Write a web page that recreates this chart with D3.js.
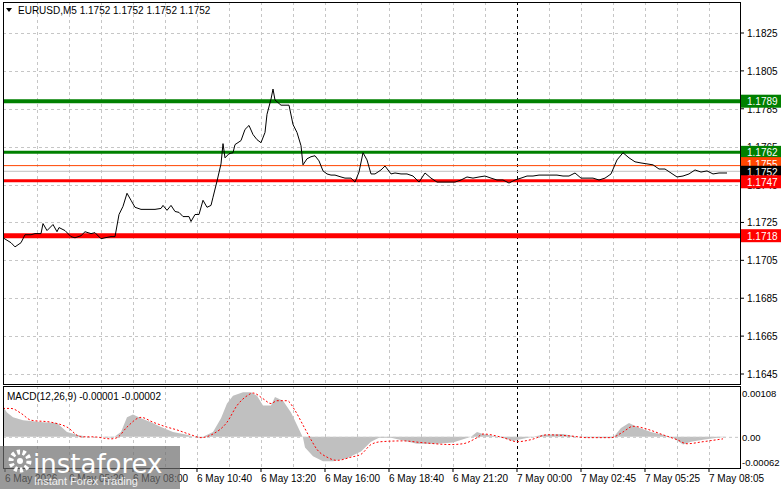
<!DOCTYPE html>
<html>
<head>
<meta charset="utf-8">
<script src="https://cdn.jsdelivr.net/npm/d3@7"></script>
<style>
  body { margin: 0; background: #fff; }
  text { font-family: "Liberation Sans", Arial, sans-serif; font-size: 10px; }
</style>
</head>
<body>
<svg id="chart" width="781" height="489"></svg>
<script>
// price line, M5 bars (bar index, close)
var priceIdx = [0,4,6,9,11,14,16,19,20,22,25,27,28,31,34,36,39,41,44,46,49,51,54,56,58,60,62,64,66,69,71,74,76,79,80,82,84,86,88,90,93,94,96,98,100,102,104,105,107,109,110,111,113,115,116,119,121,123,125,127,129,131,132,134,135,136,139,141,143,145,147,149,150,152,154,156,158,160,162,164,166,169,171,174,176,178,180,182,184,186,189,191,194,196]
  .concat(d3.range(199, 362, 3)).concat([362]);
var priceVal = [1.17169,1.17143,1.17121,1.17143,1.17185,1.17185,1.17191,1.17191,1.17244,1.17207,1.17239,1.17201,1.17223,1.17207,1.17175,1.17169,1.1718,1.17201,1.17191,1.17196,1.17164,1.17169,1.17175,1.17175,1.17292,1.17335,1.17404,1.17367,1.1733,1.17319,1.17319,1.17319,1.17319,1.17324,1.1734,1.17314,1.1734,1.17308,1.17303,1.17281,1.17281,1.17255,1.17292,1.17292,1.17367,1.1733,1.1734,1.17383,1.17468,1.17559,1.17666,1.17591,1.17613,1.17618,1.17661,1.17682,1.17741,1.17762,1.17714,1.17687,1.17671,1.17725,1.17821,1.17901,1.17954,1.17896,1.17869,1.17869,1.17869,1.17767,1.17725,1.17655,1.17554,1.17586,1.17597,1.17602,1.17575,1.17522,1.17506,1.175,1.175,1.1749,1.17484,1.17484,1.17463,1.17516,1.17618,1.1758,1.17506,1.17506,1.17527,1.17548,1.17506,1.17511,
  1.17506,1.17506,1.17495,1.17463,1.17511,1.17484,1.17463,1.17463,1.17463,1.17463,1.17474,1.1749,1.17484,1.1749,1.17495,1.17484,1.17474,1.17474,1.17458,1.17474,1.17484,1.17495,1.17495,1.175,1.175,1.175,1.175,1.17495,1.17495,1.17511,1.17484,1.17484,1.17484,1.17474,1.17484,1.17506,1.1758,1.17618,1.17591,1.1757,1.17564,1.17559,1.17554,1.17532,1.17532,1.17511,1.1749,1.17495,1.17506,1.17527,1.17516,1.17522,1.17506,1.17511,1.17511,1.17511];

// MACD main (histogram) and signal (bar index, value)
var histIdx = [0,2,5,10,20,27,32,37,42,49,55,59,62,65,69,74,79,85,92,97,100,105,109,112,115,120,124,127,130,134,136,140,144,147,150,151,155,160,165,172,179,184,188,194,207,217,225,234,237,240,250,255,260,270,280,287,300,305,309,313,317,324,330,335,340,344,350,357,362];
var histVal = [0.00074,0.0006,0.00048,0.00041,0.00036,0.00034,0.00012,0.00005,0,0,-0.00002,0.00012,0.00048,0.00055,0.00046,0.00036,0.00024,0.00012,0.00005,-0.00002,0,0.00012,0.00046,0.00082,0.00101,0.0011,0.0011,0.00101,0.00077,0.00077,0.00098,0.00089,0.0006,0.00029,-0.00002,-0.00026,-0.00048,-0.0006,-0.0006,-0.00053,-0.00036,-0.00012,-0.00002,-0.00002,-0.00017,-0.00017,-0.00014,0,0.00012,0.00007,-0.00002,-0.0001,-0.00005,0.00005,0.00007,0,-0.00002,-0.00002,0.00022,0.00034,0.00024,0.00012,0.00005,-0.00002,-0.00019,-0.00012,-0.00007,-0.00002,0];
var sigIdx = [0,4,9,14,24,32,39,45,54,57,62,69,75,82,87,94,99,105,112,117,122,125,130,134,137,142,146,150,154,157,162,167,174,179,184,189,200,209,224,230,237,240,250,257,264,272,284,292,304,310,315,322,330,337,342,350,360];
var sigVal = [0.0007,0.0007,0.00058,0.00041,0.00036,0.00024,0,0,-0.00005,-0.00002,0.00024,0.00048,0.00036,0.00024,0.00017,0.00005,-0.00002,0.00007,0.00036,0.00077,0.00101,0.00108,0.00094,0.00082,0.00089,0.00089,0.00065,0.00029,-0.00007,-0.00031,-0.0005,-0.00058,-0.0005,-0.00043,-0.00019,-0.00012,-0.0001,-0.00014,-0.00019,-0.00017,-0.00002,0.00007,-0.00002,-0.00012,-0.00007,0.00005,0.00002,-0.00002,-0.00002,0.00012,0.00026,0.00019,0.00005,-0.00007,-0.00017,-0.00012,-0.00005];

var priceTicks = [1.1825,1.1805,1.1785,1.1765,1.1745,1.1725,1.1705,1.1685,1.1665,1.1645];
var macdTicks = [0.00108, 0, -0.00062];
var macdTickLabels = ["0.00108", "0.00", "-0.00062"];
var timeIdx = [1,33,65,97,129,161,193,225,257,289,321,353];
var timeLabels = ["6 May 2026","6 May 05:20","6 May 08:00","6 May 10:40","6 May 13:20","6 May 16:00","6 May 18:40","6 May 21:20","7 May 00:00","7 May 02:45","7 May 05:25","7 May 08:05"];

// levels: value, colour, width
var levels = [
  {v: 1.1789, c: "#008000", w: 4},
  {v: 1.1762, c: "#008000", w: 3},
  {v: 1.1755, c: "#ff4500", w: 1},
  {v: 1.1752, c: "#c0c0c0", w: 1},
  {v: 1.1747, c: "#ff0000", w: 3},
  {v: 1.1718, c: "#ff0000", w: 5}
];
var tags = [
  {v: 1.1789, bg: "#008000", dy: 0},
  {v: 1.1762, bg: "#008000", dy: 0},
  {v: 1.1755, bg: "#ff4500", dy: -2},
  {v: 1.1752, bg: "#000000", dy: 1},
  {v: 1.1747, bg: "#ff0000", dy: 1},
  {v: 1.1718, bg: "#ff0000", dy: 0}
];

var svg = d3.select("#chart");
var L = 3, R = 740;
var x = d3.scaleLinear().domain([0, 362]).range([L, 727]);
var y = d3.scaleLinear().domain([1.1645, 1.1825]).range([374, 33]);
var ym = d3.scaleLinear().domain([-0.00062, 0.00108]).range([462, 393]);

var grid = "#c6c6c6";
// horizontal grid
svg.append("g").selectAll("line").data(priceTicks).join("line")
  .attr("x1", L).attr("x2", R).attr("y1", d => Math.round(y(d)) + 0.5).attr("y2", d => Math.round(y(d)) + 0.5)
  .attr("stroke", grid).attr("stroke-dasharray", "3,3");
// vertical grid
var vgrid = d3.range(17, 362, 16);
[[2, 384], [386, 468]].forEach(function (p) {
  svg.append("g").selectAll("line").data(vgrid).join("line")
    .attr("x1", d => Math.round(x(d)) + 0.5).attr("x2", d => Math.round(x(d)) + 0.5)
    .attr("y1", p[0]).attr("y2", p[1])
    .attr("stroke", d => d === 257 ? "#000" : grid).attr("stroke-dasharray", "3,3");
});

// levels
svg.append("g").selectAll("line").data(levels).join("line")
  .attr("x1", L).attr("x2", R).attr("y1", d => y(d.v)).attr("y2", d => y(d.v))
  .attr("stroke", d => d.c).attr("stroke-width", d => d.w);

// price line
var pts = priceIdx.map((d, i) => [d, priceVal[i]]);
svg.append("path").datum(pts)
  .attr("d", d3.line().x(d => x(d[0])).y(d => y(d[1])))
  .attr("fill", "none").attr("stroke", "#000").attr("stroke-width", 1);

// MACD
var hist = histIdx.map((d, i) => [d, histVal[i]]);
svg.append("path").datum(hist)
  .attr("d", d3.area().x(d => x(d[0])).y0(ym(0)).y1(d => ym(d[1])))
  .attr("fill", "#c0c0c0");
svg.append("line").attr("x1", L).attr("x2", R).attr("y1", ym(0) + 0.5).attr("y2", ym(0) + 0.5)
  .attr("stroke", grid).attr("stroke-dasharray", "3,3");
var sig = sigIdx.map((d, i) => [d, sigVal[i]]);
svg.append("path").datum(sig)
  .attr("d", d3.line().curve(d3.curveMonotoneX).x(d => x(d[0])).y(d => ym(d[1])))
  .attr("fill", "none").attr("stroke", "#ff0000").attr("stroke-dasharray", "2,2");

// frames
svg.append("rect").attr("x", L + 0.5).attr("y", 2.5).attr("width", R - L).attr("height", 382)
  .attr("fill", "none").attr("stroke", "#000");
svg.append("rect").attr("x", L + 0.5).attr("y", 386.5).attr("width", R - L).attr("height", 82)
  .attr("fill", "none").attr("stroke", "#000");

// price axis
svg.append("g").selectAll("text").data(priceTicks).join("text")
  .attr("x", 747).attr("y", d => y(d) + 4).text(d => d.toFixed(4));
svg.append("g").selectAll("line").data(priceTicks).join("line")
  .attr("x1", R).attr("x2", R + 4).attr("y1", d => y(d)).attr("y2", d => y(d)).attr("stroke", "#000");
var tg = svg.append("g").selectAll("g").data(tags).join("g")
  .attr("transform", d => "translate(" + (R + 1) + "," + (y(d.v) + d.dy) + ")");
tg.append("rect").attr("x", 0).attr("y", -6.5).attr("width", 40).attr("height", 13).attr("fill", d => d.bg);
tg.append("text").attr("x", 6).attr("y", 4).attr("fill", "#fff").text(d => d.v.toFixed(4));

// macd axis
svg.append("g").selectAll("text").data(macdTicks).join("text")
  .attr("x", 742).attr("y", d => ym(d) + 4).style("font-size", "9.5px").text((d, i) => macdTickLabels[i]);

// time axis
svg.append("g").selectAll("text").data(timeIdx).join("text")
  .attr("x", d => x(d)).attr("y", 482).text((d, i) => timeLabels[i]);
svg.append("g").selectAll("line").data(timeIdx).join("line")
  .attr("x1", d => x(d)).attr("x2", d => x(d)).attr("y1", 468).attr("y2", 472).attr("stroke", "#000");

// titles
svg.append("path").attr("d", "M6,8 L12,8 L9,12 Z").attr("fill", "#000");
svg.append("text").attr("x", 18).attr("y", 14).text("EURUSD,M5  1.1752 1.1752 1.1752 1.1752");
svg.append("text").attr("x", 7).attr("y", 400).text("MACD(12,26,9) -0.00001 -0.00002");

// watermark
var wm = svg.append("g");
wm.append("rect").attr("x", 0).attr("y", 446).attr("width", 180).attr("height", 43).attr("fill", "rgba(110,110,110,0.7)");
wm.append("circle").attr("cx", 20).attr("cy", 461).attr("r", 9).attr("fill", "none").attr("stroke", "#fff").attr("stroke-width", 5).attr("stroke-dasharray", "3,2.6");
wm.append("circle").attr("cx", 20).attr("cy", 461).attr("r", 3).attr("fill", "#fff");
wm.append("text").attr("x", 33).attr("y", 473).attr("fill", "#fff").style("font-family", "DejaVu Sans").style("font-size", "26px").text("instaforex");
wm.append("text").attr("x", 34).attr("y", 485).attr("fill", "#f0f0f0").style("font-size", "11px").text("Instant Forex Trading");
</script>
</body>
</html>
